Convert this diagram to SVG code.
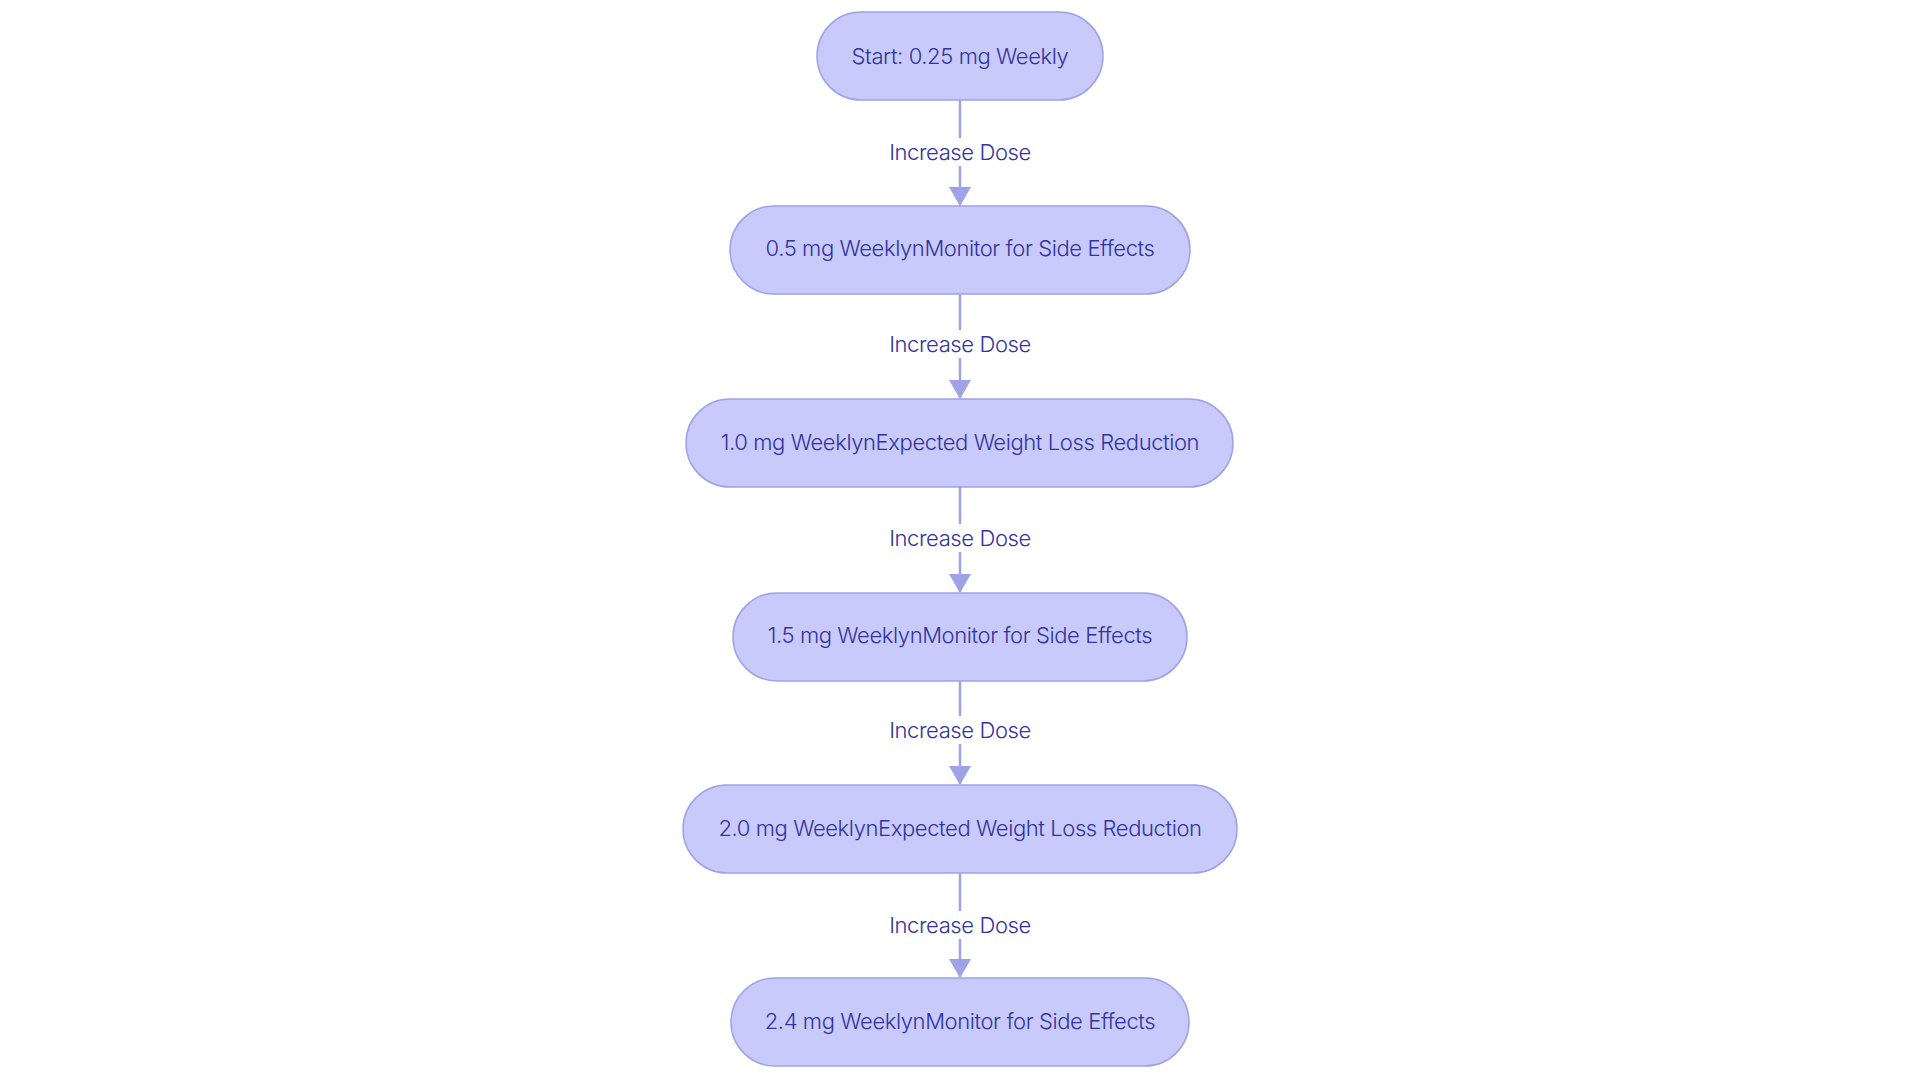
<svg xmlns="http://www.w3.org/2000/svg" width="1920" height="1083" viewBox="0 0 1920 1083">
<style>
.n rect{fill:#c8cafc;stroke:#9ea2e6;stroke-width:1.5}
text{font-family:Inter,"Noto Sans",sans-serif;font-size:22px;font-weight:300;letter-spacing:-0.4px;fill:#3232a0;text-anchor:middle;dominant-baseline:central}
.e{stroke:#9ea2e6;stroke-width:2.5;fill:none;marker-end:url(#a)}
.lb{fill:#ffffff}
</style>
<defs><marker id="a" markerWidth="20" markerHeight="22" refX="18" refY="11" orient="auto" markerUnits="userSpaceOnUse" viewBox="0 0 20 22"><path d="M0,0L19,11L0,22z" fill="#9ea2e6"/></marker></defs>
<rect width="1920" height="1083" fill="#ffffff"/>
<g id="edges">
<path class="e" d="M960,100V205"/>
<path class="e" d="M960,294V398"/>
<path class="e" d="M960,487V592"/>
<path class="e" d="M960,681V784"/>
<path class="e" d="M960,873V977"/>
<g>
<rect class="lb" x="885" y="138" width="150" height="28"/><text x="960" y="152">Increase Dose</text>
<rect class="lb" x="885" y="330" width="150" height="28"/><text x="960" y="344">Increase Dose</text>
<rect class="lb" x="885" y="524" width="150" height="28"/><text x="960" y="538">Increase Dose</text>
<rect class="lb" x="885" y="716" width="150" height="28"/><text x="960" y="730">Increase Dose</text>
<rect class="lb" x="885" y="911" width="150" height="28"/><text x="960" y="925">Increase Dose</text>
</g>
</g>
<g id="n1" class="n"><rect x="817" y="12" width="286" height="88" rx="44"/><text x="960" y="56">Start: 0.25 mg Weekly</text></g>
<g id="n2" class="n"><rect x="730" y="206" width="460" height="88" rx="44"/><text x="960" y="248">0.5 mg WeeklynMonitor for Side Effects</text></g>
<g id="n3" class="n"><rect x="686" y="399" width="547" height="88" rx="44"/><text x="960" y="442">1.0 mg WeeklynExpected Weight Loss Reduction</text></g>
<g id="n4" class="n"><rect x="733" y="593" width="454" height="88" rx="44"/><text x="960" y="635">1.5 mg WeeklynMonitor for Side Effects</text></g>
<g id="n5" class="n"><rect x="683" y="785" width="554" height="88" rx="44"/><text x="960" y="828">2.0 mg WeeklynExpected Weight Loss Reduction</text></g>
<g id="n6" class="n"><rect x="731" y="978" width="458" height="88" rx="44"/><text x="960" y="1021">2.4 mg WeeklynMonitor for Side Effects</text></g>
</svg>
